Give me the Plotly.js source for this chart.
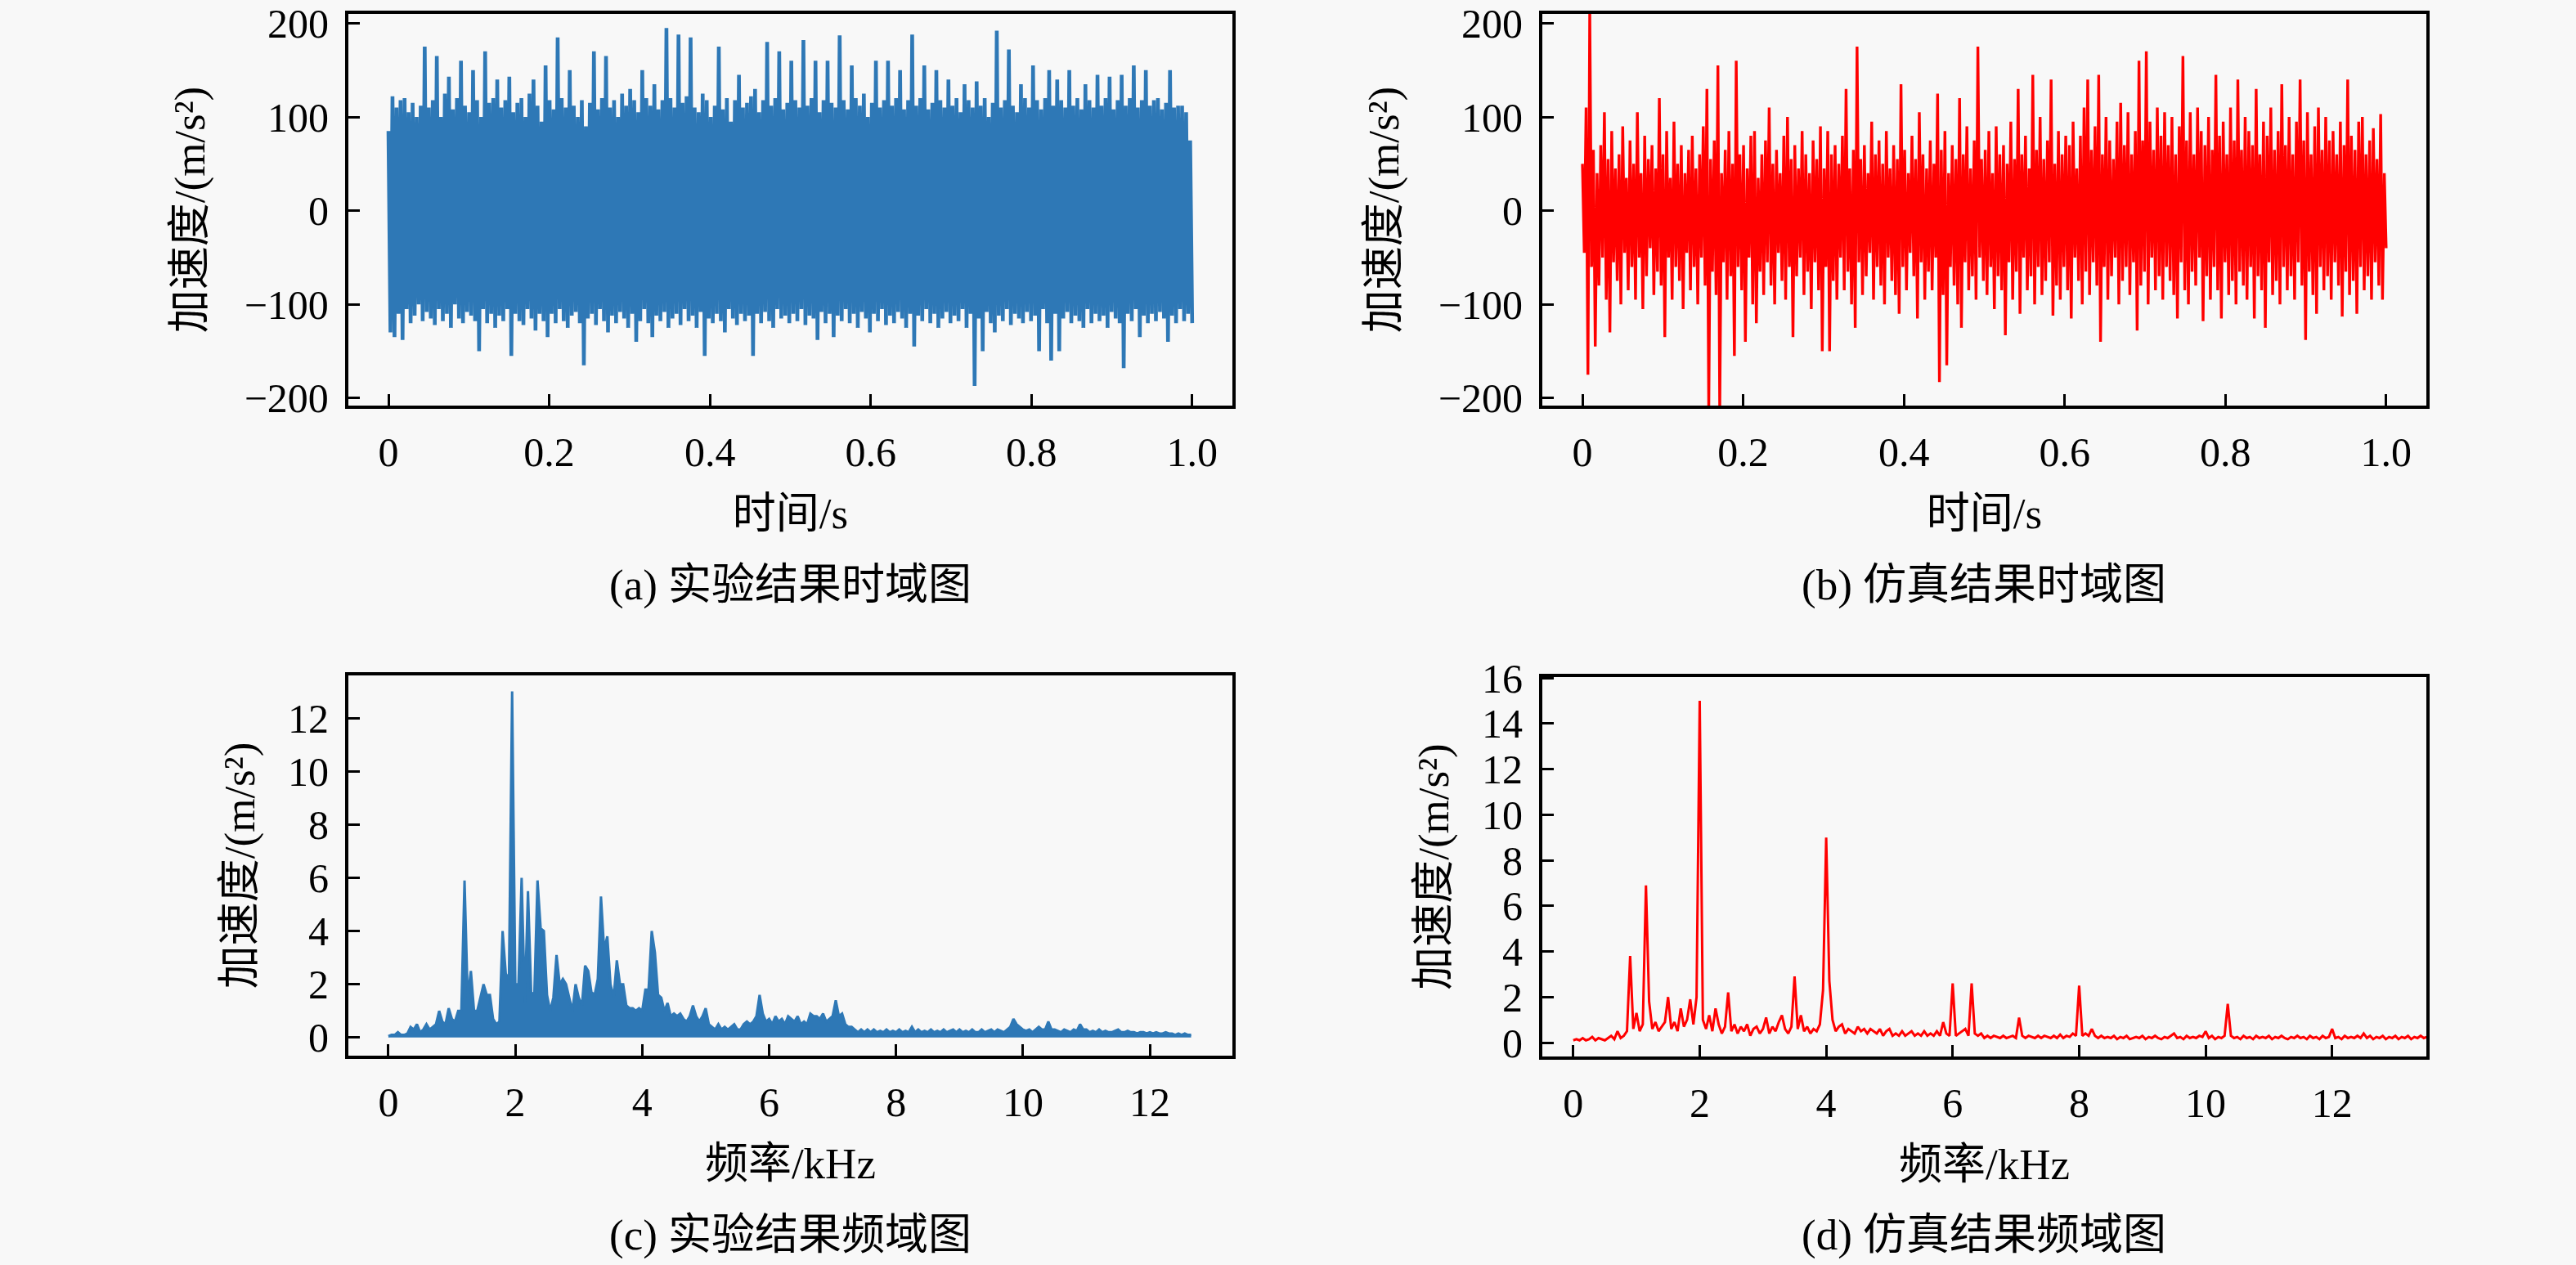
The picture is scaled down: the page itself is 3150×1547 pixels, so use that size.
<!DOCTYPE html>
<html>
<head>
<meta charset="utf-8">
<script src="https://cdn.plot.ly/plotly-3.0.1.min.js"></script>
<style>
html,body{margin:0;padding:0;background:#f8f8f8;}
#chart{width:3150px;height:1547px;}
</style>
</head>
<body>
<div id="chart"></div>
<script>
// ---------- (a) experimental time signal: alternating peak / trough samples ----------
const aPeaks = [
 85,122,110,118,120,105,115,100,112,175,
 110,118,165,100,125,143,108,120,160,112,
 105,150,118,100,170,115,120,140,110,118,
 143,105,115,120,100,125,140,112,95,155,
 118,108,185,120,110,150,112,100,118,90,
 115,170,108,120,165,110,118,100,125,112,
 130,118,105,150,120,112,135,108,118,195,
 120,110,188,115,122,185,110,105,125,118,
 100,112,175,108,120,95,118,145,110,115,
 122,130,105,118,180,112,120,170,108,115,
 160,118,110,182,112,120,160,105,118,160,
 115,110,187,118,108,155,120,112,125,100,
 115,160,110,118,160,112,120,150,108,118,
 188,112,120,155,108,115,150,118,110,140,
 112,120,105,135,118,110,138,112,120,100,
 115,192,110,118,172,112,105,135,120,110,
 155,118,108,120,150,112,140,118,110,150,
 112,120,108,135,118,110,145,112,120,143,
 108,118,145,112,120,155,110,118,150,112,
 118,120,108,115,150,110,112,112,105,75
];
const aTroughs = [
 -130,-135,-110,-138,-105,-120,-112,-100,-118,-108,
 -115,-122,-105,-118,-110,-125,-100,-115,-120,-108,
 -112,-118,-150,-105,-120,-110,-125,-112,-118,-105,
 -155,-110,-118,-122,-105,-115,-128,-110,-118,-135,
 -110,-120,-105,-118,-125,-112,-108,-120,-165,-115,
 -110,-122,-105,-118,-130,-112,-120,-108,-115,-125,
 -110,-140,-118,-105,-120,-135,-112,-118,-108,-125,
 -115,-110,-122,-105,-118,-112,-125,-108,-155,-115,
 -120,-110,-118,-130,-105,-115,-122,-110,-118,-112,
 -155,-110,-120,-108,-118,-125,-105,-115,-112,-120,
 -110,-118,-105,-122,-112,-115,-138,-108,-120,-110,
 -135,-112,-118,-105,-120,-110,-125,-108,-115,-130,
 -110,-118,-105,-122,-112,-120,-108,-115,-125,-110,
 -145,-112,-118,-105,-120,-110,-125,-115,-108,-120,
 -112,-118,-105,-125,-110,-187,-115,-150,-108,-120,
 -130,-112,-118,-105,-122,-110,-115,-120,-108,-118,
 -112,-150,-105,-120,-160,-110,-150,-115,-108,-120,
 -112,-118,-125,-105,-120,-110,-118,-112,-125,-108,
 -115,-120,-168,-110,-118,-105,-135,-112,-120,-110,
 -118,-108,-115,-140,-112,-120,-105,-118,-110,-120
];

// ---------- (b) simulated time signal ----------
const bPeaks = [
 50,110,215,65,40,70,105,55,85,45,
 60,90,35,75,50,105,40,80,55,70,
 45,120,60,85,35,95,50,70,40,65,
 80,45,60,90,130,55,75,155,40,65,
 85,50,160,60,70,45,80,85,35,60,
 75,110,50,65,40,80,100,55,70,45,
 85,60,40,75,55,90,45,85,60,70,
 50,80,130,45,65,175,55,70,40,95,
 60,75,50,85,45,70,55,135,65,40,
 80,55,105,60,45,75,50,125,65,85,
 40,70,55,120,60,90,45,75,175,55,
 65,85,40,90,60,70,50,95,55,130,
 60,80,45,145,65,100,55,75,140,50,
 85,60,80,70,95,45,80,110,140,65,
 90,145,60,100,75,55,95,115,70,105,
 60,85,160,75,170,95,65,110,80,105,
 70,100,60,90,165,75,105,60,110,85,
 70,100,65,145,80,95,60,110,75,140,
 65,100,85,70,130,60,95,80,110,65,
 85,135,70,100,60,95,140,75,105,60,
 90,110,65,100,75,85,60,95,70,140,
 80,65,95,100,60,75,88,55,103,40
];
const bTroughs = [
 -45,-175,-60,-145,-80,-50,-95,-130,-55,-75,
 -100,-45,-85,-60,-95,-50,-105,-70,-40,-90,
 -65,-80,-135,-50,-95,-60,-75,-105,-45,-85,
 -60,-100,-50,-80,-215,-65,-90,-215,-55,-95,
 -70,-155,-60,-85,-140,-50,-100,-120,-65,-90,
 -55,-80,-100,-45,-75,-95,-60,-135,-70,-50,
 -90,-65,-105,-55,-85,-150,-60,-150,-75,-95,
 -50,-85,-65,-100,-125,-55,-90,-70,-45,-95,
 -60,-80,-100,-50,-75,-90,-110,-60,-85,-45,
 -70,-115,-55,-95,-65,-85,-50,-183,-90,-165,
 -60,-80,-100,-125,-55,-85,-70,-95,-50,-75,
 -90,-60,-105,-70,-85,-133,-55,-95,-65,-110,
 -50,-85,-70,-100,-60,-90,-75,-55,-112,-80,
 -95,-60,-85,-115,-50,-75,-100,-65,-90,-55,
 -80,-140,-60,-95,-70,-50,-100,-75,-60,-90,
 -55,-128,-80,-65,-100,-50,-85,-70,-95,-60,
 -75,-90,-115,-55,-85,-100,-65,-80,-50,-118,
 -70,-95,-60,-85,-115,-55,-90,-75,-100,-65,
 -80,-95,-60,-115,-70,-85,-125,-55,-90,-75,
 -100,-60,-85,-70,-95,-55,-80,-138,-65,-90,
 -110,-60,-85,-70,-95,-55,-80,-113,-65,-90,
 -75,-110,-60,-85,-70,-95,-55,-80,-95,-40
];

// ---------- (c) experimental spectrum, 0.05 kHz bins from 0 to 12.65 kHz ----------
const cStepKHz = 0.05;
const cAmp = [
 0.05,0.1,0.1,0.2,0.1,0.1,0.15,0.4,0.3,0.5,
 0.2,0.3,0.5,0.3,0.4,0.5,1.0,0.6,0.5,1.1,
 0.7,0.6,1.0,1.0,5.9,1.5,2.5,1.0,1.0,1.5,
 2.0,1.6,1.6,0.7,0.5,0.6,4.0,2.4,2.2,13.0,
 2.0,2.0,6.0,1.3,5.5,1.7,1.6,5.9,4.1,4.0,
 1.6,1.0,1.5,3.1,2.0,2.2,2.0,1.5,1.0,2.0,
 1.5,1.2,2.7,2.5,1.7,1.6,2.2,5.3,3.3,3.8,
 2.0,1.5,2.9,2.0,2.0,1.2,1.1,1.1,1.0,1.1,
 1.0,1.8,1.8,4.0,3.2,1.6,1.5,1.0,1.3,0.8,
 0.9,0.8,0.9,0.7,0.6,0.8,1.2,0.8,0.6,0.8,
 1.1,0.5,0.4,0.3,0.5,0.3,0.4,0.3,0.4,0.5,
 0.3,0.3,0.5,0.6,0.5,0.6,0.8,1.6,0.9,0.6,
 0.7,0.5,0.8,0.6,0.7,0.5,0.8,0.7,0.6,0.8,
 0.5,0.6,0.5,0.9,0.8,0.8,0.7,0.9,0.6,0.7,
 0.8,1.4,0.8,0.9,0.5,0.4,0.4,0.3,0.2,0.3,
 0.2,0.3,0.2,0.3,0.2,0.25,0.2,0.3,0.2,0.25,
 0.2,0.3,0.2,0.25,0.2,0.4,0.2,0.3,0.2,0.25,
 0.2,0.3,0.2,0.25,0.2,0.3,0.2,0.25,0.3,0.2,
 0.3,0.2,0.25,0.2,0.3,0.2,0.2,0.3,0.2,0.25,
 0.3,0.2,0.3,0.25,0.2,0.3,0.4,0.7,0.5,0.4,
 0.3,0.25,0.3,0.2,0.3,0.4,0.3,0.3,0.6,0.3,
 0.3,0.25,0.2,0.3,0.25,0.2,0.3,0.25,0.5,0.3,
 0.3,0.2,0.25,0.2,0.3,0.2,0.25,0.2,0.2,0.25,
 0.3,0.2,0.2,0.25,0.2,0.2,0.15,0.2,0.2,0.15,
 0.2,0.15,0.2,0.15,0.15,0.2,0.15,0.15,0.1,0.15,
 0.1,0.15,0.1,0.1
];

// ---------- (d) simulated spectrum, 0.05 kHz bins from 0 to 13.5 kHz ----------
const dStepKHz = 0.05;
const dAmp = [
 0.1,0.15,0.1,0.2,0.1,0.15,0.25,0.1,0.2,0.15,
 0.1,0.2,0.3,0.15,0.5,0.2,0.3,0.5,3.8,0.6,
 1.3,0.5,0.8,6.9,1.8,0.6,0.9,0.5,0.7,0.9,
 2.0,0.6,0.9,0.5,1.5,0.7,1.0,1.9,0.8,2.0,
 15.0,1.0,0.6,1.2,0.5,1.5,0.8,0.4,0.7,2.2,
 0.5,0.8,0.4,0.7,0.5,0.8,0.3,0.6,0.7,0.4,
 0.6,1.1,0.4,0.7,0.5,0.9,1.2,0.6,0.4,0.7,
 2.9,0.6,1.2,0.5,0.7,0.4,0.6,0.5,0.8,2.3,
 9.0,2.7,1.0,0.5,0.7,0.8,0.4,0.6,0.5,0.4,
 0.7,0.5,0.6,0.4,0.6,0.5,0.4,0.6,0.3,0.5,
 0.6,0.3,0.4,0.3,0.5,0.3,0.4,0.5,0.3,0.4,
 0.3,0.5,0.3,0.4,0.3,0.5,0.3,0.9,0.4,0.3,
 2.6,0.3,0.4,0.5,0.6,0.3,2.6,0.4,0.3,0.4,
 0.2,0.3,0.2,0.3,0.25,0.2,0.3,0.2,0.25,0.3,
 0.2,1.1,0.3,0.2,0.3,0.25,0.2,0.3,0.2,0.3,
 0.25,0.2,0.3,0.2,0.35,0.2,0.3,0.25,0.4,0.3,
 2.5,0.3,0.4,0.3,0.6,0.3,0.2,0.3,0.2,0.25,
 0.2,0.3,0.15,0.25,0.2,0.3,0.15,0.2,0.25,0.2,
 0.3,0.15,0.25,0.2,0.3,0.2,0.15,0.25,0.2,0.3,
 0.4,0.2,0.25,0.15,0.3,0.2,0.25,0.2,0.3,0.25,
 0.5,0.2,0.3,0.15,0.25,0.2,0.3,1.7,0.3,0.2,
 0.25,0.15,0.3,0.2,0.25,0.15,0.3,0.2,0.25,0.2,
 0.3,0.15,0.25,0.2,0.3,0.2,0.15,0.25,0.2,0.3,
 0.2,0.25,0.15,0.3,0.2,0.25,0.15,0.3,0.2,0.25,
 0.6,0.2,0.25,0.15,0.3,0.2,0.25,0.2,0.3,0.2,
 0.4,0.2,0.3,0.15,0.25,0.2,0.3,0.15,0.25,0.2,
 0.3,0.15,0.25,0.2,0.3,0.15,0.25,0.2,0.3,0.2,0.25
];

// ---------- ticks & labels ----------
const timeTicks = [0, 0.2, 0.4, 0.6, 0.8, 1.0];
const timeTickText = ['0', '0.2', '0.4', '0.6', '0.8', '1.0'];
const accTicks = [-200, -100, 0, 100, 200];
const accTickText = ['\u2212200', '\u2212100', '0', '100', '200'];
const freqTicks = [0, 2, 4, 6, 8, 10, 12];
const freqTickText = ['0', '2', '4', '6', '8', '10', '12'];
const specTicksC = [0, 2, 4, 6, 8, 10, 12];
const specTicksD = [0, 2, 4, 6, 8, 10, 12, 14, 16];
const yTitle = '加速度/(m/s\u00B2)';
const captions = ['(a) 实验结果时域图', '(b) 仿真结果时域图', '(c) 实验结果频域图', '(d) 仿真结果频域图'];

// ---------- build series ----------
function interleave(hi, lo) {
  const y = [];
  for (let i = 0; i < hi.length; i++) { y.push(hi[i]); y.push(lo[i]); }
  return y;
}
function timeAxis(n) {
  const t = [];
  for (let i = 0; i < n; i++) t.push(i / (n - 1));
  return t;
}
function freqAxis(n, step) {
  const f = [];
  for (let i = 0; i < n; i++) f.push(+(i * step).toFixed(3));
  return f;
}
const aY = interleave(aPeaks, aTroughs);
const bY = interleave(bPeaks, bTroughs);
const aT = timeAxis(aY.length);
const bT = timeAxis(bY.length);
const cF = freqAxis(cAmp.length, cStepKHz);
const dF = freqAxis(dAmp.length, dStepKHz);

const BLUE = '#2e78b6';
const RED = '#ff0000';
const FONT = "'Liberation Serif', 'Times New Roman', 'Noto Sans CJK SC', serif";

const traces = [
  {x: aT, y: aY, xaxis: 'x', yaxis: 'y', type: 'scatter', mode: 'lines',
   line: {color: BLUE, width: 4.6}, hoverinfo: 'skip', showlegend: false},
  {x: bT, y: bY, xaxis: 'x2', yaxis: 'y2', type: 'scatter', mode: 'lines',
   line: {color: RED, width: 3.4}, hoverinfo: 'skip', showlegend: false},
  {x: cF, y: cAmp, xaxis: 'x3', yaxis: 'y3', type: 'scatter', mode: 'lines',
   line: {color: BLUE, width: 3}, fill: 'tozeroy', fillcolor: BLUE,
   hoverinfo: 'skip', showlegend: false},
  {x: dF, y: dAmp, xaxis: 'x4', yaxis: 'y4', type: 'scatter', mode: 'lines',
   line: {color: RED, width: 3}, hoverinfo: 'skip', showlegend: false}
];

function axisBase(extra) {
  return Object.assign({
    showline: true, mirror: true, linecolor: '#000', linewidth: 4,
    ticks: 'inside', ticklen: 14, tickwidth: 3, tickcolor: '#000',
    showgrid: false, zeroline: false, tickmode: 'array',
    tickfont: {family: FONT, size: 50, color: '#000'},
    ticklabelstandoff: 10, automargin: false, fixedrange: true
  }, extra);
}
const titleFont = {family: FONT, size: 53, color: '#000'};

const colL = [0.1352, 0.4784];
const colR = [0.5987, 0.9419];
const rowTop = [0.6794, 0.9890];

const layout = {
  width: 3150, height: 1547,
  margin: {l: 0, r: 0, t: 0, b: 0, pad: 0},
  paper_bgcolor: '#f8f8f8', plot_bgcolor: '#f8f8f8',
  font: {family: FONT, color: '#000'},
  showlegend: false,
  xaxis: axisBase({domain: colL, anchor: 'y', range: [-0.05, 1.05],
    tickvals: timeTicks, ticktext: timeTickText,
    title: {text: '时间/s', font: titleFont, standoff: 30}}),
  yaxis: axisBase({domain: rowTop, anchor: 'x', range: [-208, 210],
    tickvals: accTicks, ticktext: accTickText,
    title: {text: yTitle, font: titleFont, standoff: 32}}),
  xaxis2: axisBase({domain: colR, anchor: 'y2', range: [-0.05, 1.05],
    tickvals: timeTicks, ticktext: timeTickText,
    title: {text: '时间/s', font: titleFont, standoff: 30}}),
  yaxis2: axisBase({domain: rowTop, anchor: 'x2', range: [-208, 210],
    tickvals: accTicks, ticktext: accTickText,
    title: {text: yTitle, font: titleFont, standoff: 32}}),
  xaxis3: axisBase({domain: colL, anchor: 'y3', range: [-0.632, 13.30],
    tickvals: freqTicks, ticktext: freqTickText,
    title: {text: '频率/kHz', font: titleFont, standoff: 30}}),
  yaxis3: axisBase({domain: [0.1655, 0.4661], anchor: 'x3', range: [-0.68, 13.6],
    tickvals: specTicksC, ticktext: specTicksC.map(String),
    title: {text: yTitle, font: titleFont, standoff: 24}}),
  xaxis4: axisBase({domain: colR, anchor: 'y4', range: [-0.49, 13.49],
    tickvals: freqTicks, ticktext: freqTickText,
    title: {text: '频率/kHz', font: titleFont, standoff: 30}}),
  yaxis4: axisBase({domain: [0.1648, 0.4648], anchor: 'x4', range: [-0.61, 16.04],
    tickvals: specTicksD, ticktext: specTicksD.map(String),
    title: {text: yTitle, font: titleFont, standoff: 24}}),
  annotations: [
    {text: captions[0], x: (colL[0] + colL[1]) / 2, y: 0.5378},
    {text: captions[1], x: (colR[0] + colR[1]) / 2, y: 0.5378},
    {text: captions[2], x: (colL[0] + colL[1]) / 2, y: 0.0239},
    {text: captions[3], x: (colR[0] + colR[1]) / 2, y: 0.0239}
  ].map(a => Object.assign(a, {xref: 'paper', yref: 'paper', showarrow: false,
    xanchor: 'center', yanchor: 'middle', font: {family: FONT, size: 53, color: '#000'}}))
};

Plotly.newPlot('chart', traces, layout, {displayModeBar: false, staticPlot: true});
</script>
</body>
</html>
